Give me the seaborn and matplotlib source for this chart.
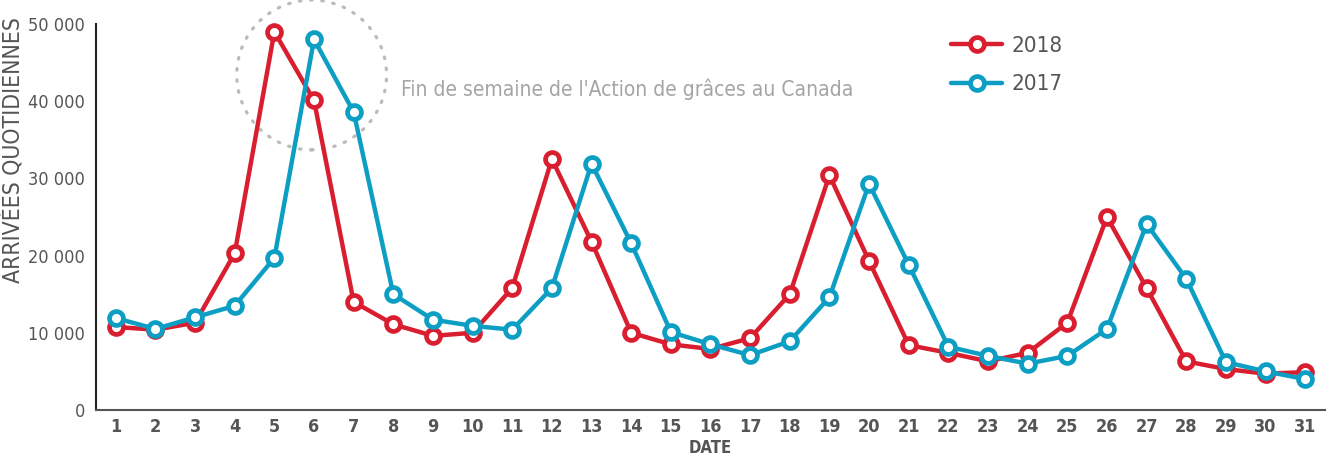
import pandas as pd
import numpy as np
import matplotlib
matplotlib.use("Agg")
import matplotlib.pyplot as plt
import seaborn as sns
from matplotlib.patches import Ellipse
from matplotlib.ticker import FixedLocator, FuncFormatter

# data
days = list(range(1, 32))
arrivals_2018 = [10750, 10400, 11300, 20300, 49000, 40100, 14000, 11100, 9600, 10000,
                 15800, 32500, 21800, 10000, 8500, 7900, 9300, 15000, 30400, 19300,
                 8400, 7400, 6300, 7400, 11300, 25000, 15800, 6300, 5300, 4700, 4900]
arrivals_2017 = [11900, 10500, 12000, 13500, 19700, 48000, 38600, 15000, 11700, 10900,
                 10400, 15800, 31900, 21600, 10100, 8500, 7100, 8900, 14600, 29300,
                 18800, 8200, 7000, 6000, 7000, 10500, 24100, 17000, 6200, 5000, 4000]
years = ["2018", "2017"]
colors = {"2018": "#d81e2f", "2017": "#0d9fc3"}
y_ticks = [0, 10000, 20000, 30000, 40000, 50000]
note = "Fin de semaine de l'Action de grâces au Canada"

df = pd.concat([
    pd.DataFrame({"day": days, "arrivals": arrivals_2018, "year": "2018"}),
    pd.DataFrame({"day": days, "arrivals": arrivals_2017, "year": "2017"}),
])

sns.set_style("white")
plt.rcParams["font.family"] = ["DejaVu Sans"]
plt.rcParams["font.stretch"] = "condensed"

fig = plt.figure(figsize=(13.29, 4.59), dpi=100)
ax = fig.add_axes([0.0722, 0.1068, 0.9248, 0.8409])

sns.lineplot(data=df, x="day", y="arrivals", hue="year", hue_order=years,
             palette=colors, marker="o", markersize=10, markerfacecolor="white",
             markeredgewidth=3.4, linewidth=3.2, ax=ax, clip_on=False)
for line in ax.lines:
    line.set_markeredgecolor(line.get_color())

ax.set_xlim(0.5, 31.5)
ax.set_ylim(0, 50000)

# x axis: labels at days, tick marks between days
ax.xaxis.set_major_locator(FixedLocator(days))
ax.xaxis.set_minor_locator(FixedLocator([d + 0.5 for d in days]))
ax.tick_params(axis="x", which="major", length=0, pad=6, labelsize=13,
               labelcolor="#555555")
ax.tick_params(axis="x", which="minor", direction="in", length=7, width=1.5,
               color="#444444")
for lab in ax.get_xticklabels():
    lab.set_fontweight("bold")

# y axis: light stubs instead of grid lines
ax.yaxis.set_major_locator(FixedLocator(y_ticks))
ax.yaxis.set_major_formatter(FuncFormatter(lambda v, p: f"{int(v):,}".replace(",", " ")))
ax.tick_params(axis="y", direction="in", length=22, width=1.2, color="#cccccc",
               labelsize=13, labelcolor="#555555", pad=8)

for s in ["top", "right"]:
    ax.spines[s].set_visible(False)
ax.spines["left"].set_color("#222222")
ax.spines["left"].set_linewidth(1.5)
ax.spines["bottom"].set_color("#555555")
ax.spines["bottom"].set_linewidth(1.5)

ax.set_xlabel("DATE", fontsize=12, fontweight="bold", color="#555555", labelpad=2)
ax.set_ylabel("ARRIVÉES QUOTIDIENNES", fontsize=16.5, color="#555555")
ax.yaxis.set_label_coords(-0.0575, 0.674)

# dotted circle round the Thanksgiving peak
ax.add_patch(Ellipse((5.94, 43400), width=3.78, height=19400, fill=False,
                     edgecolor="#bbbbbb", linestyle=(0, (0.5, 3.0)), linewidth=2.3,
                     capstyle="round", clip_on=False))
ax.text(8.2, 41500, note, fontsize=15, color="#a5a5a5", va="center", ha="left")

leg = ax.legend(loc="upper left", bbox_to_anchor=(0.696, 0.97), frameon=False,
                fontsize=16, handlelength=2.3, labelspacing=0.85, handletextpad=0.4,
                borderaxespad=0, borderpad=0)
for t in leg.get_texts():
    t.set_color("#555555")

fig.savefig("out.png", dpi=100)
